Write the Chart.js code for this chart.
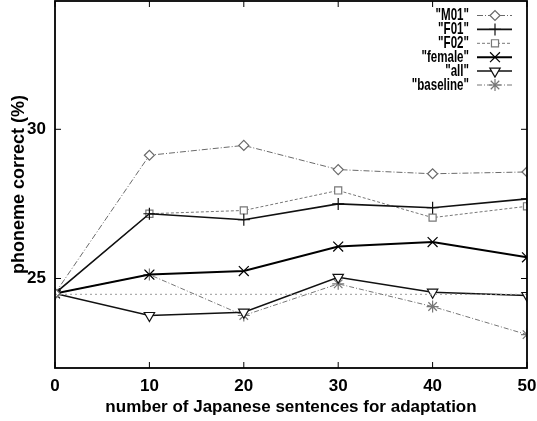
<!DOCTYPE html>
<html><head><meta charset="utf-8">
<script src="https://cdn.jsdelivr.net/npm/chart.js@4/dist/chart.umd.min.js"></script>
<style>html,body{margin:0;padding:0;background:#fff}#wrap{width:537px;height:421px}</style>
</head><body><div id="wrap"><canvas id="c" width="537" height="421"></canvas></div>
<script>
const xValues = [0, 10, 20, 30, 40, 50];
const yTicks = [25, 30];
const xTicks = [0, 10, 20, 30, 40, 50];
const seriesNames = ['"M01"', '"F01"', '"F02"', '"female"', '"all"', '"baseline"'];
const m01 = [24.5, 29.13, 29.46, 28.65, 28.51, 28.57];
const f01 = [24.5, 27.17, 26.97, 27.5, 27.37, 27.67];
const f02 = [24.5, 27.17, 27.28, 27.95, 27.04, 27.42];
const female = [24.5, 25.13, 25.25, 26.07, 26.22, 25.71];
const all = [24.5, 23.76, 23.87, 25.04, 24.54, 24.43];
const baseline = [24.5, 25.13, 23.76, 24.82, 24.06, 23.12];
const refLevel = [24.47, 24.47];
const refX = [0, 50];

const FONT = "'Liberation Sans', Arial, sans-serif";
function pts(ys){ return xValues.map((x,i)=>({x:x,y:ys[i]})); }

const styles = [
  {c:'#6a6a6a', w:1, dash:[6,2,1,2], ps:'rectRot', r:5, bg:'#fff'},
  {c:'#111', w:1.6, dash:[], ps:'cross', r:6, bg:'#111'},
  {c:'#777', w:1, dash:[3,2], ps:'rect', r:5, bg:'#fff'},
  {c:'#000', w:2, dash:[], ps:'crossRot', r:7, bg:'#000'},
  {c:'#111', w:1.5, dash:[], ps:'triangle', r:6, bg:'#fff', rot:180},
  {c:'#777', w:1, dash:[5,2,1,2], ps:'star', r:6, bg:'#777'}
];
const series = [m01, f01, f02, female, all, baseline];
const datasets = series.map((s,i)=>({
  label: seriesNames[i], data: pts(s), borderColor: styles[i].c, borderWidth: styles[i].w,
  borderDash: styles[i].dash, pointStyle: styles[i].ps, pointRadius: styles[i].r,
  pointBorderColor: styles[i].c, pointBackgroundColor: styles[i].bg, pointBorderWidth: 1.2,
  pointRotation: styles[i].rot || 0, fill:false, tension:0, legendEntry:true
}));
datasets.unshift({label:'ref', data: refX.map((x,i)=>({x:x,y:refLevel[i]})), borderColor:'#999', borderWidth:1,
  borderDash:[2,3], pointRadius:0, fill:false});

const frame = {
  id:'frame',
  afterDraw(chart){
    const {ctx, chartArea:a, scales} = chart;
    ctx.save();
    ctx.strokeStyle = '#000'; ctx.lineWidth = 1.8; ctx.setLineDash([]);
    ctx.strokeRect(a.left, a.top, a.right-a.left, a.bottom-a.top);
    ctx.lineWidth = 1;
    xTicks.forEach(v=>{ const px = scales.x.getPixelForValue(v);
      ctx.beginPath(); ctx.moveTo(px,a.bottom); ctx.lineTo(px,a.bottom-6); ctx.stroke();
      ctx.beginPath(); ctx.moveTo(px,a.top); ctx.lineTo(px,a.top+6); ctx.stroke(); });
    yTicks.forEach(v=>{ const py = scales.y.getPixelForValue(v);
      ctx.beginPath(); ctx.moveTo(a.left,py); ctx.lineTo(a.left+6,py); ctx.stroke();
      ctx.beginPath(); ctx.moveTo(a.right,py); ctx.lineTo(a.right-6,py); ctx.stroke(); });
    // legend
    let row = 0;
    chart.data.datasets.forEach(ds=>{
      if(!ds.legendEntry) return;
      const y = 15.5 + row*13.9;
      ctx.save();
      ctx.font = "bold 17px " + FONT; ctx.textAlign='right'; ctx.textBaseline='middle'; ctx.fillStyle='#000';
      ctx.translate(469, y); ctx.scale(0.68, 1);
      ctx.fillText(ds.label, 0, 0);
      ctx.restore();
      ctx.strokeStyle = ds.borderColor; ctx.lineWidth = ds.borderWidth; ctx.setLineDash(ds.borderDash);
      ctx.beginPath(); ctx.moveTo(477,y); ctx.lineTo(512,y); ctx.stroke();
      ctx.setLineDash([]);
      ctx.fillStyle = ds.pointBackgroundColor; ctx.strokeStyle = ds.pointBorderColor; ctx.lineWidth = ds.pointBorderWidth;
      if (Chart.helpers && Chart.helpers.drawPoint) {
        Chart.helpers.drawPoint(ctx, {pointStyle: ds.pointStyle, radius: ds.pointRadius, rotation: ds.pointRotation, borderWidth: ds.pointBorderWidth}, 495, y);
      }
      row++;
    });
    ctx.restore();
  }
};

new Chart(document.getElementById('c'), {
  type:'line',
  data:{datasets},
  options:{
    responsive:false, animation:false, devicePixelRatio:1,
    layout:{autoPadding:false, padding:{top:1, right:10, left:0, bottom:0}},
    plugins:{legend:{display:false}, tooltip:{enabled:false}},
    scales:{
      x:{type:'linear', min:0, max:50,
        afterBuildTicks(s){ s.ticks = xTicks.map(v=>({value:v})); },
        afterFit(s){ s.height = 53; s.paddingLeft = 0; s.paddingRight = 0; },
        grid:{display:false, drawTicks:false},
        border:{display:false},
        ticks:{color:'#000', font:{family:FONT, size:17, weight:'bold'}, padding:8, maxRotation:0},
        title:{display:true, text:'number of Japanese sentences for adaptation', color:'#000',
          font:{family:FONT, size:17, weight:'bold'}, padding:{top:0,bottom:3}}
      },
      y:{type:'linear', min:22, max:34.3,
        afterBuildTicks(s){ s.ticks = yTicks.map(v=>({value:v})); },
        afterFit(s){ s.width = 55; s.paddingTop = 0; s.paddingBottom = 0; },
        grid:{display:false, drawTicks:false},
        border:{display:false},
        ticks:{color:'#000', font:{family:FONT, size:17, weight:'bold'}, padding:9},
        title:{display:true, text:'phoneme correct (%)', color:'#000',
          font:{family:FONT, size:18, weight:'bold'}, padding:{top:8,bottom:0}}
      }
    }
  },
  plugins:[frame]
});
</script></body></html>
